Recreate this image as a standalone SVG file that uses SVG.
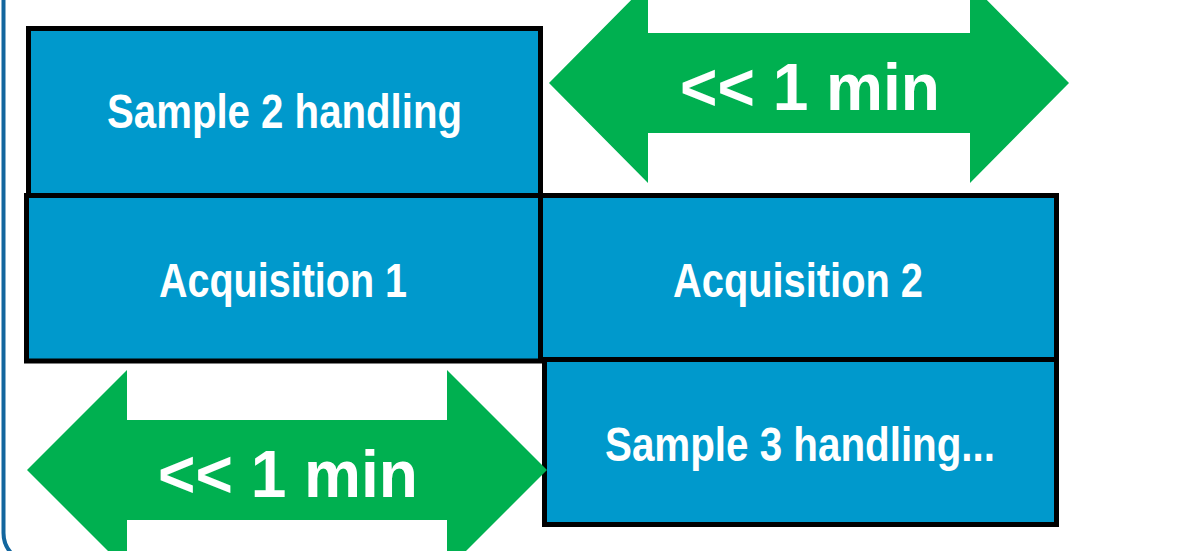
<svg xmlns="http://www.w3.org/2000/svg" width="1202" height="551" viewBox="0 0 1202 551">
  <style>
    .box { fill: #0099CC; stroke: #000000; stroke-width: 5; }
    .lbl { font-family: "Liberation Sans", Arial, sans-serif; font-weight: bold; fill: #FFFFFF; font-size: 48px; }
    .arrow { fill: #00B050; }
    .alb { font-family: "Liberation Sans", Arial, sans-serif; font-weight: bold; fill: #FFFFFF; font-size: 66px; }
  </style>
  <rect width="1202" height="551" fill="#FFFFFF"/>
  <g id="frame">
    <rect x="3.5" y="-40" width="1300" height="603" rx="30" ry="30" fill="none" stroke="#13669E" stroke-width="4"/>
  </g>
  <g id="sample2">
    <rect class="box" x="28.5" y="28.5" width="512" height="167"/>
    <text class="lbl" x="107" y="128" textLength="355" lengthAdjust="spacingAndGlyphs">Sample 2 handling</text>
  </g>
  <g id="acq1">
    <rect class="box" x="26.5" y="195.5" width="514" height="165.5"/>
    <text class="lbl" x="159" y="297" textLength="248" lengthAdjust="spacingAndGlyphs">Acquisition 1</text>
  </g>
  <g id="acq2">
    <rect class="box" x="540.5" y="195.5" width="516" height="164"/>
    <text class="lbl" x="673" y="297" textLength="250" lengthAdjust="spacingAndGlyphs">Acquisition 2</text>
  </g>
  <g id="sample3">
    <rect class="box" x="544.5" y="359.5" width="512" height="165"/>
    <text class="lbl" x="605" y="461" textLength="390" lengthAdjust="spacingAndGlyphs">Sample 3 handling...</text>
  </g>
  <g id="connectors">
    <g id="arrow-top">
      <polygon class="arrow" points="549,83 648,-17 648,33 970,33 970,-17 1069,83 970,183 970,133 648,133 648,183"/>
      <text class="alb" x="680" y="110" textLength="260" lengthAdjust="spacingAndGlyphs">&lt;&lt; 1 min</text>
    </g>
    <g id="arrow-bottom">
      <polygon class="arrow" points="27,470 127,370 127,420 447,420 447,370 547,470 447,570 447,520 127,520 127,570"/>
      <text class="alb" x="158" y="497" textLength="260" lengthAdjust="spacingAndGlyphs">&lt;&lt; 1 min</text>
    </g>
  </g>
</svg>
